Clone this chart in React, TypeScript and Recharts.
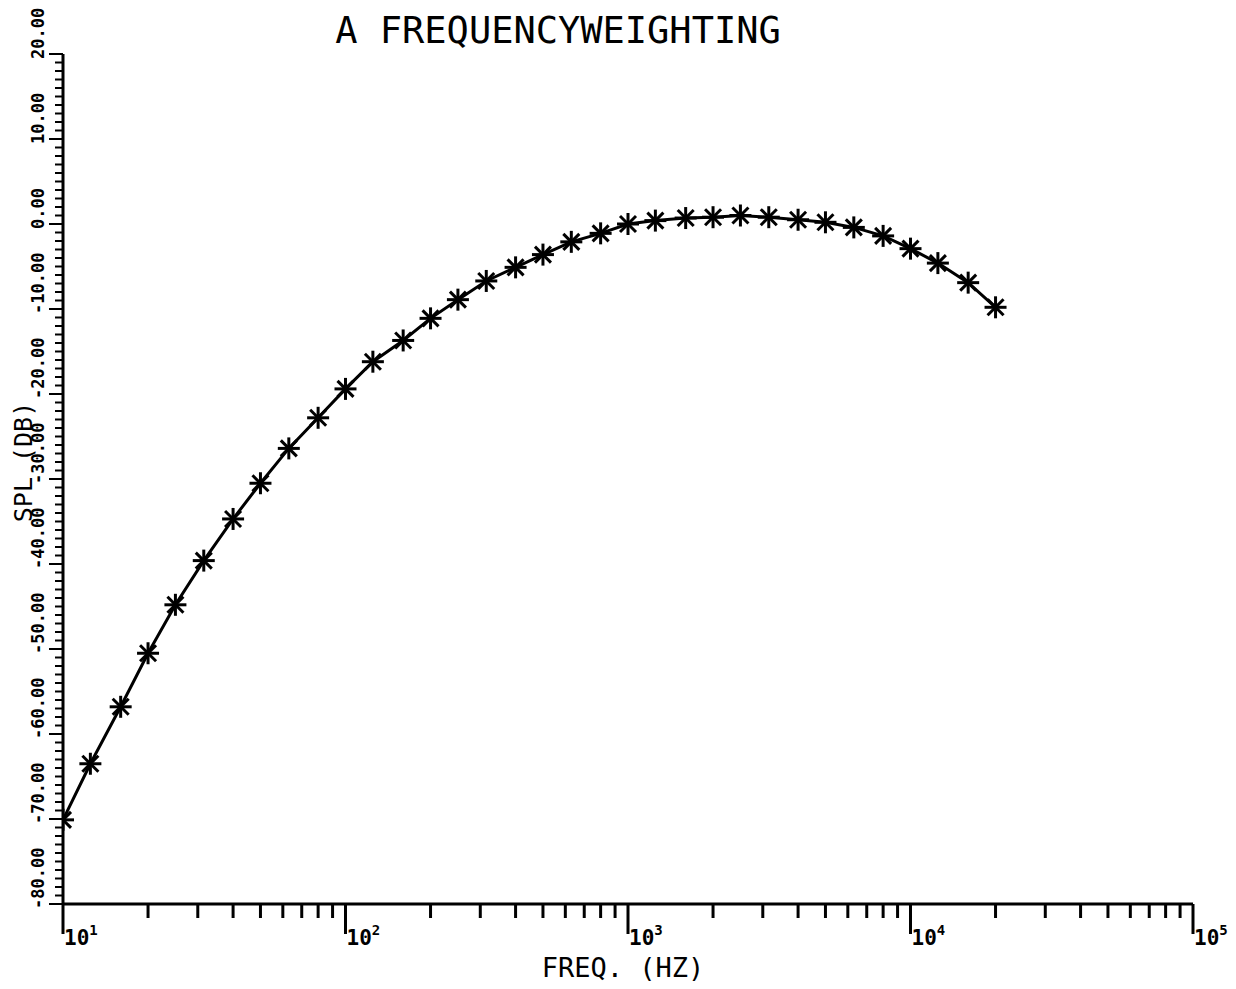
import React from "react";
import { LineChart, Line, XAxis, YAxis } from "recharts";

// third-octave band centre frequencies (Hz)
const freqs = [
  10, 12.5, 16, 20, 25, 31.5, 40, 50, 63, 80, 100, 125, 160, 200, 250, 315, 400,
  500, 630, 800, 1000, 1250, 1600, 2000, 2500, 3150, 4000, 5000, 6300, 8000,
  10000, 12500, 16000, 20000,
];

// A weighting, SPL in dB
const splA = [
  -70.1, -63.5, -56.8, -50.5, -44.8, -39.6, -34.7, -30.5, -26.4, -22.8, -19.4,
  -16.2, -13.7, -11.1, -8.9, -6.7, -5.1, -3.6, -2.1, -1.1, 0.0, 0.4, 0.7, 0.8,
  1.0, 0.8, 0.5, 0.2, -0.4, -1.4, -2.9, -4.6, -6.9, -9.8,
];

const decades = [10, 100, 1000, 10000, 100000];
const multipliers = [1, 2, 3, 4, 5, 6, 7, 8, 9];
const freqTicks = decades
  .slice(0, 4)
  .flatMap((d) => multipliers.map((m) => d * m))
  .concat([100000]);

const splMajorTicks = [-80, -70, -60, -50, -40, -30, -20, -10, 0, 10, 20];
const splTicks = splMajorTicks.flatMap((t) =>
  t === 20 ? [20] : [0, 1, 2, 3, 4, 5, 6, 7, 8, 9].map((k) => t + k)
);

const data = freqs.map((f, i) => ({ freq: f, spl: splA[i] }));

const FONT = "'DejaVu Sans Mono', monospace";
const INK = "#000";

const FreqTick = (props: any) => {
  const { x, y, payload } = props;
  const v = payload.value;
  const exp = Math.round(Math.log10(v));
  const major = Math.abs(v - Math.pow(10, exp)) < 1e-6;
  return (
    <g>
      <line x1={x} x2={x} y1={y} y2={y + (major ? 30 : 14)} stroke={INK} strokeWidth={3} />
      {major && (
        <text x={x + 1} y={y + 41} fontSize={21} fontWeight="bold" fontFamily={FONT} fill={INK}>
          10
          <tspan dy={-10} fontSize={14}>
            {exp}
          </tspan>
        </text>
      )}
    </g>
  );
};

const SplTick = (props: any) => {
  const { x, y, payload } = props;
  const v = payload.value;
  const major = v % 10 === 0;
  const lx = x - 19;
  const ly = y + 5;
  return (
    <g>
      <line x1={x} x2={x - (major ? 14 : 8)} y1={y} y2={y} stroke={INK} strokeWidth={2} />
      {major && (
        <text
          x={lx}
          y={ly}
          transform={`rotate(-90 ${lx} ${ly})`}
          fontSize={17}
          fontWeight="bold"
          fontFamily={FONT}
          fill={INK}
        >
          {v.toFixed(2)}
        </text>
      )}
    </g>
  );
};

// asterisk marker
const Star = (props: any) => {
  const { cx, cy, index } = props;
  const r = 11;
  const d = 8;
  return (
    <g key={`star-${index}`} stroke={INK} strokeWidth={3}>
      <line x1={cx - r} x2={cx + r} y1={cy} y2={cy} />
      <line x1={cx} x2={cx} y1={cy - r} y2={cy + r} />
      <line x1={cx - d} x2={cx + d} y1={cy - d} y2={cy + d} />
      <line x1={cx - d} x2={cx + d} y1={cy + d} y2={cy - d} />
    </g>
  );
};

export default function App() {
  const width = 1220;
  const height = 973;
  return (
    <div style={{ position: "relative", width, height }}>
      <LineChart
        width={width}
        height={height}
        data={data}
        margin={{ top: 46, right: 35, bottom: 17, left: 0 }}
      >
        <XAxis
          dataKey="freq"
          type="number"
          scale="log"
          domain={[10, 100000]}
          ticks={freqTicks}
          interval={0}
          allowDataOverflow
          height={60}
          tickSize={0}
          tickMargin={0}
          tickLine={false}
          axisLine={{ stroke: INK, strokeWidth: 3 }}
          tick={<FreqTick />}
        />
        <YAxis
          type="number"
          domain={[-80, 20]}
          ticks={splTicks}
          interval={0}
          allowDataOverflow
          width={55}
          tickSize={0}
          tickMargin={0}
          tickLine={false}
          axisLine={{ stroke: INK, strokeWidth: 3 }}
          tick={<SplTick />}
        />
        <Line
          type="linear"
          dataKey="spl"
          stroke={INK}
          strokeWidth={3}
          dot={<Star />}
          activeDot={false}
          isAnimationActive={false}
        />
      </LineChart>
      <svg
        width={width}
        height={height}
        style={{ position: "absolute", left: 0, top: 0, pointerEvents: "none", overflow: "visible" }}
      >
        <text x={550} y={35} textAnchor="middle" fontSize={37} fontFamily={FONT} fill={INK}>
          A FREQUENCYWEIGHTING
        </text>
        <text x={615} y={969} textAnchor="middle" fontSize={27} fontFamily={FONT} fill={INK}>
          FREQ. (HZ)
        </text>
        <text
          x={24}
          y={454}
          transform="rotate(-90 24 454)"
          textAnchor="middle"
          fontSize={25}
          fontFamily={FONT}
          fill={INK}
        >
          SPL (DB)
        </text>
      </svg>
    </div>
  );
}
